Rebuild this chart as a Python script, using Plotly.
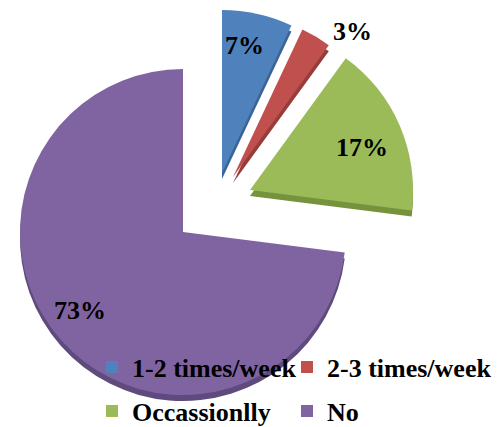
import plotly.graph_objects as go

# Survey answers and their shares (%)
categories = ["1-2 times/week", "2-3 times/week", "Occassionlly", "No"]
percent = [7, 3, 17, 73]

# Slice styling
colors = ["#4F81BD", "#C0504D", "#9BBB59", "#8064A2"]
edge_colors = ["#3B6496", "#963C3A", "#76923C", "#5F4A7D"]

W, H = 500, 427
RADIUS = 163          # px
THICKNESS = 6         # px, depth of the slice edge
PIE_CX, PIE_CY = 183, 232   # centre of the un-exploded pie (px from top-left)
# how far each slice is pulled away from the centre (px)
explode_dx = [39, 50, 67, 0]
explode_dy = [-59, -55, -42, 0]

font_family = "Liberation Serif, Times New Roman, serif"
TRANSPARENT = "rgba(0,0,0,0)"

# legend entries laid out on a 2x2 grid (px from top-left of the item)
legend_cols = [92, 287]
legend_rows = [367, 411]


def domain_at(cx, cy, r):
    return dict(x=[(cx - r) / W, (cx + r) / W],
                y=[1 - (cy + r) / H, 1 - (cy - r) / H])


def slice_trace(idx, color, cx, cy):
    cols = [color if j == idx else TRANSPARENT for j in range(len(categories))]
    return go.Pie(
        labels=categories,
        values=percent,
        sort=False,
        direction="clockwise",
        rotation=0,
        marker=dict(colors=cols, line=dict(width=0)),
        textinfo="none",
        hoverinfo="skip",
        showlegend=False,
        domain=domain_at(cx, cy, RADIUS),
    )


fig = go.Figure()

# one legend per category; the carrier pies are tiny and hidden under the big slice
legend_layout = {}
for i, name in enumerate(categories):
    key = "legend" if i == 0 else f"legend{i + 1}"
    fig.add_trace(go.Pie(
        labels=[name],
        values=[percent[i]],
        sort=False,
        marker=dict(colors=[colors[i]], line=dict(width=0)),
        textinfo="none",
        hoverinfo="skip",
        legend=key,
        showlegend=True,
        domain=dict(x=[0.2, 0.201], y=[0.3, 0.301]),
    ))
    legend_layout[key] = dict(
        x=legend_cols[i % 2] / W,
        y=1 - legend_rows[i // 2] / H,
        xanchor="left",
        yanchor="middle",
        bgcolor=TRANSPARENT,
        borderwidth=0,
        font=dict(family=font_family, size=26, color="black", weight="bold"),
        itemclick=False,
        itemdoubleclick=False,
    )

# slice edges (depth), then slice tops
for i in range(len(categories)):
    fig.add_trace(slice_trace(i, edge_colors[i],
                              PIE_CX + explode_dx[i],
                              PIE_CY + explode_dy[i] + THICKNESS))
for i in range(len(categories)):
    fig.add_trace(slice_trace(i, colors[i],
                              PIE_CX + explode_dx[i],
                              PIE_CY + explode_dy[i]))

# percentage labels
label_pos = [(244, 45), (352, 32), (362, 148), (80, 310)]
for v, (lx, ly) in zip(percent, label_pos):
    fig.add_annotation(
        x=lx / W, y=1 - ly / H, xref="paper", yref="paper",
        text=f"<b>{v}%</b>", showarrow=False,
        xanchor="center", yanchor="middle",
        font=dict(family=font_family, size=26, color="black"),
    )

fig.update_layout(
    width=W,
    height=H,
    margin=dict(l=0, r=0, t=0, b=0, autoexpand=False),
    paper_bgcolor="white",
    plot_bgcolor="white",
    **legend_layout,
)

fig.write_html("out.html")
